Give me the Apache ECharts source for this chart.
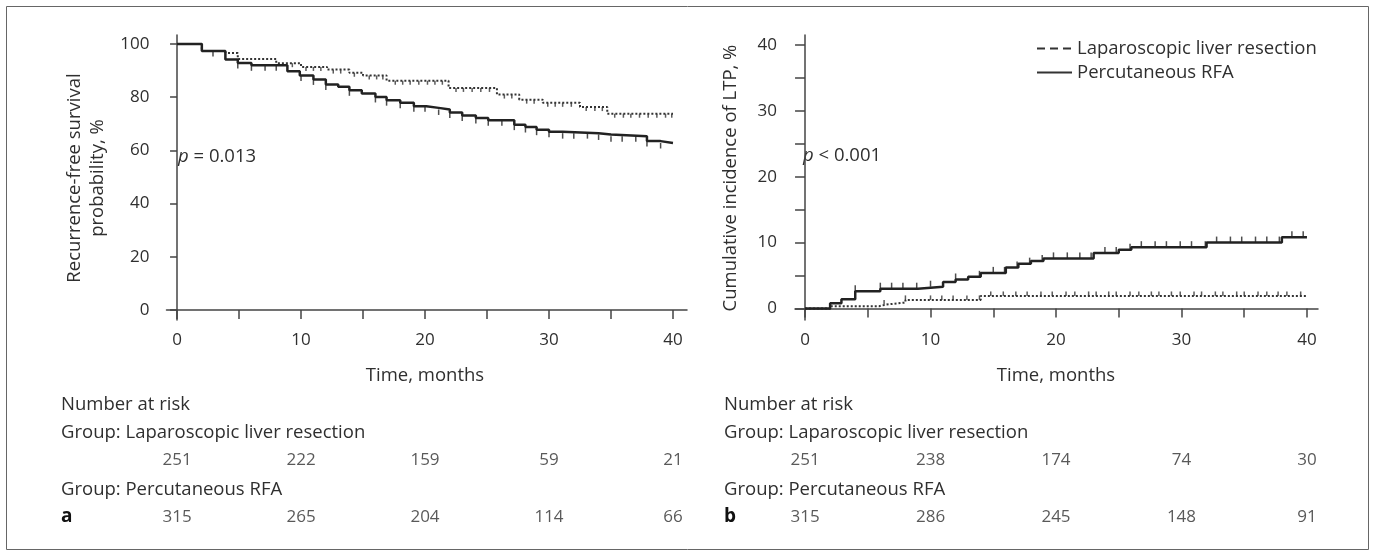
<!DOCTYPE html>
<html>
<head>
<meta charset="utf-8">
<script src="https://cdn.jsdelivr.net/npm/echarts@6/dist/echarts.min.js"></script>
<style>
  html, body { margin: 0; padding: 0; background: #fff; }
  #main { width: 1375px; height: 556px; }
</style>
</head>
<body>
<div id="main"></div>
<script>
// Kaplan-Meier steps, [month, percent]
var rfsLap = [[0,100],[2.0,97.4],[3.9,96.6],[4.9,94.4],[8.0,92.8],[10.0,91.4],[12.1,90.4],[13.9,89.2],[15.0,88.2],[16.9,86.2],[21.9,83.5],[25.8,81.0],[27.6,79.1],[29.5,77.9],[32.5,76.3],[34.7,73.8],[40,73.8]];
var rfsRfa = [[0,100],[2.0,97.4],[3.9,94.2],[4.9,92.9],[6.0,92.0],[8.9,89.8],[9.9,88.2],[11.0,86.7],[12.0,84.8],[13.0,83.9],[13.9,82.6],[14.9,81.4],[16.0,80.1],[16.9,78.9],[18.0,77.9],[19.1,76.6],[20.1,76.0],[21.1,75.4],[22.0,74.3],[23.0,73.1],[24.1,72.2],[25.1,71.3],[27.2,69.7],[28.1,68.8],[29.0,67.8],[30.0,67.0],[31.1,66.5],[34.0,66.0],[35.0,65.3],[37.9,63.5],[39.0,62.8],[40,62.8]];
var ltpLap = [[0,0],[2.1,0.35],[5.9,0.6],[6.5,0.9],[8.0,1.3],[14.0,1.9],[40,1.9]];
var ltpRfa = [[0,0],[2.0,0.8],[2.9,1.4],[4.0,2.6],[6.0,3.0],[9.0,3.3],[11.0,4.0],[12.0,4.4],[13.0,4.8],[14.0,5.4],[16.0,6.2],[17.0,6.8],[18.0,7.2],[19.0,7.6],[23.0,8.4],[25.0,8.9],[26.0,9.3],[32.0,10.0],[38.0,10.8],[40,10.8]];

// censoring times (months)
var rfsLapCens = [9.3,10.4,11.0,11.6,12.6,13.2,14.3,15.5,16.1,16.6,17.6,18.2,18.8,19.5,20.2,20.8,21.4,22.5,23.1,23.8,24.5,25.2,26.4,27.0,28.2,28.8,29.9,30.5,31.1,31.8,33.0,33.7,34.3,35.3,36.0,36.6,37.3,38.0,38.7,39.4,39.9];
var rfsRfaCens = [2.9,4.9,6.0,7.1,8.0,10.0,11.0,12.0,13.9,16.0,16.9,18.0,19.1,20.0,21.1,22.0,23.0,24.1,25.1,26.2,27.2,28.1,29.0,30.0,31.1,32.0,33.1,34.0,35.0,35.9,37.0,37.9,39.0];
var ltpLapCens = [6.3,8.0,10.0,10.9,11.8,12.9,13.9,14.8,15.8,16.8,17.7,18.8,19.7,20.8,21.5,22.6,23.2,24.2,24.8,25.9,26.6,27.6,28.2,29.2,29.9,31.0,31.6,32.7,33.3,34.4,35.0,36.1,36.8,37.7,38.4,39.5];
var ltpRfaCens = [4.0,6.0,6.9,7.8,8.9,10.0,12.0,13.9,15.0,15.9,16.9,17.9,18.9,19.8,20.9,21.9,22.8,23.9,24.8,25.9,26.8,27.9,28.8,29.9,30.8,31.9,32.8,33.9,34.8,35.9,36.8,37.8,38.8,39.7];

// number at risk
var riskTimes = [0,10,20,30,40];
var rfsRiskLap = [251,222,159,59,21];
var rfsRiskRfa = [315,265,204,114,66];
var ltpRiskLap = [251,238,174,74,30];
var ltpRiskRfa = [315,286,245,148,91];

// axis ticks
var timeTicks = [0,5,10,15,20,25,30,35,40];
var timeLabels = [0,10,20,30,40];
var rfsTicks = [0,20,40,60,80,100];
var ltpTicks = [0,5,10,15,20,25,30,35,40];
var ltpLabels = [0,10,20,30,40];

var FONT = '"Open Sans", "Noto Sans", sans-serif';
var TXT = '#2f2f2f';
var AX = '#444';
var FS = 18.5; // running text

function stepAt(curve, t) {
  var v = curve[0][1];
  for (var i = 0; i < curve.length; i++) {
    if (curve[i][0] <= t) v = curve[i][1];
  }
  return v;
}
function censPoints(curve, times) {
  return times.map(function (t) { return [t, stepAt(curve, t)]; });
}
function riskPoints(vals, row) {
  return vals.map(function (n, i) { return [riskTimes[i], row, n]; });
}
function txt(x, y, s, extra) {
  var st = { text: s, verticalAlign: 'middle', fontSize: FS, fontFamily: FONT, fill: TXT };
  for (var k in extra) st[k] = extra[k];
  return { type: 'text', x: x, y: y, style: st };
}

function xAxisCfg(grid, min, max, tickLen) {
  return {
    gridIndex: grid, type: 'value', min: min, max: max,
    axisLine: { show: true, lineStyle: { color: AX, width: 1.5 } },
    axisTick: { show: true, length: tickLen, customValues: timeTicks, lineStyle: { color: AX, width: 1.5 } },
    axisLabel: { customValues: timeLabels, margin: 12, fontSize: 17, fontFamily: FONT, color: TXT },
    splitLine: { show: false }
  };
}

var chart = echarts.init(document.getElementById('main'));

var pRich = { i: { fontStyle: 'italic', fontSize: FS, fontFamily: FONT, fill: TXT } };

var option = {
  animation: false,
  backgroundColor: '#fff',
  grid: [
    { left: 166.5, top: 35, width: 520.5, height: 285 },
    { left: 795, top: 35, width: 523, height: 285 },
    { left: 166.5, top: 460, width: 520.5, height: 57 },
    { left: 795, top: 460, width: 523, height: 57 }
  ],
  xAxis: [
    xAxisCfg(0, -0.85, 41.13, 9),
    xAxisCfg(1, -0.8, 40.88, 9),
    { gridIndex: 2, type: 'value', min: -0.85, max: 41.13, show: false },
    { gridIndex: 3, type: 'value', min: -0.8, max: 40.88, show: false }
  ],
  yAxis: [
    {
      gridIndex: 0, type: 'value', min: -3.76, max: 103.4,
      axisLine: { show: true, lineStyle: { color: AX, width: 1.5 } },
      axisTick: { show: true, length: 7, customValues: rfsTicks, lineStyle: { color: AX, width: 1.5 } },
      axisLabel: { customValues: rfsTicks, margin: 17, fontSize: 17, fontFamily: FONT, color: TXT },
      splitLine: { show: false }
    },
    {
      gridIndex: 1, type: 'value', min: -1.75, max: 41.5,
      axisLine: { show: true, lineStyle: { color: AX, width: 1.5 } },
      axisTick: { show: true, length: 10, customValues: ltpTicks, lineStyle: { color: AX, width: 1.5 } },
      axisLabel: { customValues: ltpLabels, margin: 18, fontSize: 17, fontFamily: FONT, color: TXT },
      splitLine: { show: false }
    },
    { gridIndex: 2, type: 'value', min: 0, max: 1, show: false },
    { gridIndex: 3, type: 'value', min: 0, max: 1, show: false }
  ],
  legend: {
    orient: 'vertical', left: 1031, top: 34,
    itemWidth: 35, itemHeight: 14, itemGap: 5,
    textStyle: { fontSize: FS, fontFamily: FONT, color: TXT },
    data: [
      { name: 'Laparoscopic liver resection', itemStyle: { opacity: 0 },
        lineStyle: { type: [8, 5], width: 2, color: '#333' } },
      { name: 'Percutaneous RFA', itemStyle: { opacity: 0 },
        lineStyle: { type: 'solid', width: 2, color: '#333' } }
    ]
  },
  series: [
    // a: recurrence-free survival
    { name: 'Laparoscopic liver resection', type: 'line', xAxisIndex: 0, yAxisIndex: 0, step: 'end', symbol: 'none',
      data: rfsLap, itemStyle: { color: '#333' }, lineStyle: { color: '#333', width: 2, type: [2, 2] } },
    { name: 'Percutaneous RFA', type: 'line', xAxisIndex: 0, yAxisIndex: 0, step: 'end', symbol: 'none',
      data: rfsRfa, itemStyle: { color: '#222' }, lineStyle: { color: '#222', width: 2.5 } },
    { name: 'rfsLapCens', type: 'scatter', xAxisIndex: 0, yAxisIndex: 0, symbol: 'rect',
      symbolSize: [1.5, 4], symbolOffset: [0, 2], itemStyle: { color: '#333' }, data: censPoints(rfsLap, rfsLapCens) },
    { name: 'rfsRfaCens', type: 'scatter', xAxisIndex: 0, yAxisIndex: 0, symbol: 'rect',
      symbolSize: [1.5, 5.5], symbolOffset: [0, 2.75], itemStyle: { color: '#222' }, data: censPoints(rfsRfa, rfsRfaCens) },

    // b: cumulative incidence of LTP
    { name: 'Laparoscopic liver resection', type: 'line', xAxisIndex: 1, yAxisIndex: 1, step: 'end', symbol: 'none',
      data: ltpLap, itemStyle: { color: '#333' }, lineStyle: { color: '#333', width: 2, type: [2, 2] } },
    { name: 'Percutaneous RFA', type: 'line', xAxisIndex: 1, yAxisIndex: 1, step: 'end', symbol: 'none',
      data: ltpRfa, itemStyle: { color: '#222' }, lineStyle: { color: '#222', width: 2.5 } },
    { name: 'ltpLapCens', type: 'scatter', xAxisIndex: 1, yAxisIndex: 1, symbol: 'rect',
      symbolSize: [1.5, 4.5], symbolOffset: [0, -2.25], itemStyle: { color: '#333' }, data: censPoints(ltpLap, ltpLapCens) },
    { name: 'ltpRfaCens', type: 'scatter', xAxisIndex: 1, yAxisIndex: 1, symbol: 'rect',
      symbolSize: [1.5, 6], symbolOffset: [0, -3], itemStyle: { color: '#222' }, data: censPoints(ltpRfa, ltpRfaCens) },

    // number at risk tables
    { name: 'risk', type: 'scatter', xAxisIndex: 2, yAxisIndex: 2, symbolSize: 1,
      itemStyle: { color: 'rgba(0,0,0,0)' },
      label: { show: true, position: 'inside', fontSize: 17, fontFamily: FONT, color: TXT,
        formatter: function (p) { return p.value[2]; } },
      data: riskPoints(rfsRiskLap, 1).concat(riskPoints(rfsRiskRfa, 0)) },
    { name: 'risk2', type: 'scatter', xAxisIndex: 3, yAxisIndex: 3, symbolSize: 1,
      itemStyle: { color: 'rgba(0,0,0,0)' },
      label: { show: true, position: 'inside', fontSize: 17, fontFamily: FONT, color: TXT,
        formatter: function (p) { return p.value[2]; } },
      data: riskPoints(ltpRiskLap, 1).concat(riskPoints(ltpRiskRfa, 0)) }
  ],
  graphic: [
    { type: 'rect', silent: true, shape: { x: 6.5, y: 6.5, width: 1362, height: 543 },
      style: { fill: 'none', stroke: '#666', lineWidth: 1 } },
    { type: 'text', x: 86, y: 178, rotation: Math.PI / 2,
      style: { text: 'Recurrence-free survival\nprobability, %', align: 'center', verticalAlign: 'middle',
        fontSize: FS, fontFamily: FONT, fill: TXT, lineHeight: 23 } },
    { type: 'text', x: 731, y: 178, rotation: Math.PI / 2,
      style: { text: 'Cumulative incidence of LTP, %', align: 'center', verticalAlign: 'middle',
        fontSize: FS, fontFamily: FONT, fill: TXT } },
    txt(178, 157, '{i|p} = 0.013', { rich: pRich }),
    txt(803, 156, '{i|p} < 0.001', { rich: pRich }),
    txt(425, 376, 'Time, months', { align: 'center' }),
    txt(1056, 376, 'Time, months', { align: 'center' }),
    txt(61, 405, 'Number at risk'),
    txt(724, 405, 'Number at risk'),
    txt(61, 433, 'Group: Laparoscopic liver resection'),
    txt(724, 433, 'Group: Laparoscopic liver resection'),
    txt(61, 490, 'Group: Percutaneous RFA'),
    txt(724, 490, 'Group: Percutaneous RFA'),
    txt(61, 517, 'a', { fontSize: 19, fontWeight: 'bold', fill: '#111' }),
    txt(724, 517, 'b', { fontSize: 19, fontWeight: 'bold', fill: '#111' })
  ]
};

chart.setOption(option);
</script>
</body>
</html>
